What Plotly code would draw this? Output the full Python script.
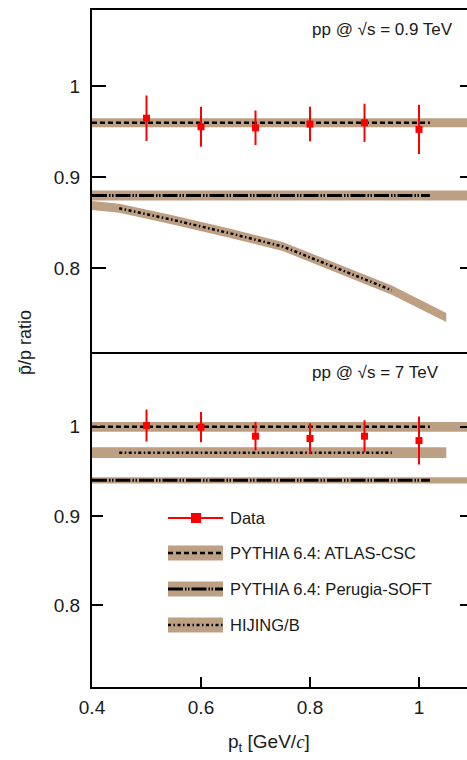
import plotly.graph_objects as go

# ---------------- data ----------------
pt = [0.5, 0.6, 0.7, 0.8, 0.9, 1.0]
ratio_09 = [0.965, 0.9556, 0.9545, 0.9586, 0.960, 0.9527]
err_09 = [0.025, 0.022, 0.019, 0.019, 0.021, 0.027]
ratio_7 = [1.0015, 0.9996, 0.9895, 0.9869, 0.9895, 0.9846]
err_7 = [0.018, 0.017, 0.016, 0.017, 0.018, 0.027]

# models, 0.9 TeV
atlas_09_x = [0.4, 1.1]
atlas_09_y = [0.96, 0.96]
atlas_09_unc = 0.005
perugia_09_x = [0.4, 1.1]
perugia_09_y = [0.88, 0.88]
perugia_09_unc = 0.0055
hijing_09_x = [0.4, 0.45, 0.55, 0.65, 0.75, 0.85, 0.95, 1.05]
hijing_09_y = [0.869, 0.866, 0.853, 0.839, 0.824, 0.800, 0.776, 0.746]
hijing_09_unc = 0.005

# models, 7 TeV
atlas_7_x = [0.4, 1.1]
atlas_7_y = [1.0, 1.0]
atlas_7_unc = 0.0055
hijing_7_x = [0.4, 1.05]
hijing_7_y = [0.971, 0.971]
hijing_7_unc = 0.006
perugia_7_x = [0.4, 1.1]
perugia_7_y = [0.94, 0.94]
perugia_7_unc = 0.0035

# extent of the central curves
pythia_line_x = [0.4, 1.02]
hijing_line_x = [0.45, 0.95]

y_ticks = [0.8, 0.9, 1.0]
y_ticktext = ["0.8", "0.9", "1"]
x_ticks = [0.4, 0.6, 0.8, 1.0]
x_ticktext = ["0.4", "0.6", "0.8", "1"]

legend_labels = ["Data", "PYTHIA 6.4: ATLAS-CSC", "PYTHIA 6.4: Perugia-SOFT", "HIJING/B"]

# ---------------- styles ----------------
TAN = "#bda083"
RED = "#ff0000"
FONT = "Liberation Sans, Arial, sans-serif"
DASH_ATLAS = "5px,3px"
DASH_PERUGIA = "15px,2px,1.5px,1.5px,1.5px,2px"
DASH_HIJING = "3px,2.5px,1.5px,2.5px"

W, H = 467, 760
ML, MR, MT, MB = 92, 0, 10, 73
PW, PH = W - ML - MR, H - MT - MB
SPLIT = (687 - 352) / PH  # domain split between panels

fig = go.Figure()


def band(x, y, unc, xa, ya):
    lo = [v - unc for v in y]
    hi = [v + unc for v in y]
    fig.add_trace(go.Scatter(
        x=list(x) + list(x)[::-1], y=hi + lo[::-1], fill="toself",
        fillcolor=TAN, line=dict(width=0), mode="lines",
        xaxis=xa, yaxis=ya, showlegend=False, hoverinfo="skip"))


def curve(x, y, dash, width, xa, ya):
    fig.add_trace(go.Scatter(
        x=x, y=y, mode="lines", line=dict(color="black", width=width, dash=dash),
        xaxis=xa, yaxis=ya, showlegend=False, hoverinfo="skip"))


def interp(xs, ys, xv):
    for i in range(len(xs) - 1):
        if xs[i] <= xv <= xs[i + 1]:
            t = (xv - xs[i]) / (xs[i + 1] - xs[i])
            return ys[i] + t * (ys[i + 1] - ys[i])
    return ys[-1]


# ---- top panel (0.9 TeV): xaxis x2 / yaxis y2
band(atlas_09_x, atlas_09_y, atlas_09_unc, "x2", "y2")
band(perugia_09_x, perugia_09_y, perugia_09_unc, "x2", "y2")
band(hijing_09_x, hijing_09_y, hijing_09_unc, "x2", "y2")
curve(pythia_line_x, [interp(atlas_09_x, atlas_09_y, v) for v in pythia_line_x],
      DASH_ATLAS, 2.5, "x2", "y2")
curve(pythia_line_x, [interp(perugia_09_x, perugia_09_y, v) for v in pythia_line_x],
      DASH_PERUGIA, 3, "x2", "y2")
hx = [v for v in hijing_09_x if hijing_line_x[0] <= v <= hijing_line_x[1]]
curve(hx, [interp(hijing_09_x, hijing_09_y, v) for v in hx], DASH_HIJING, 2.5, "x2", "y2")
fig.add_trace(go.Scatter(
    x=pt, y=ratio_09, mode="markers",
    marker=dict(symbol="square", size=7, color=RED),
    error_y=dict(type="data", array=err_09, color=RED, thickness=2, width=0),
    xaxis="x2", yaxis="y2", showlegend=False))

# ---- bottom panel (7 TeV): xaxis x / yaxis y
band(atlas_7_x, atlas_7_y, atlas_7_unc, "x", "y")
band(hijing_7_x, hijing_7_y, hijing_7_unc, "x", "y")
band(perugia_7_x, perugia_7_y, perugia_7_unc, "x", "y")
curve(pythia_line_x, [interp(atlas_7_x, atlas_7_y, v) for v in pythia_line_x],
      DASH_ATLAS, 2.5, "x", "y")
curve(hijing_line_x, [interp(hijing_7_x, hijing_7_y, v) for v in hijing_line_x],
      DASH_HIJING, 2.5, "x", "y")
curve(pythia_line_x, [interp(perugia_7_x, perugia_7_y, v) for v in pythia_line_x],
      DASH_PERUGIA, 3, "x", "y")
fig.add_trace(go.Scatter(
    x=pt, y=ratio_7, mode="markers",
    marker=dict(symbol="square", size=7, color=RED),
    error_y=dict(type="data", array=err_7, color=RED, thickness=2, width=0),
    xaxis="x", yaxis="y", showlegend=False))

# ---------------- axes ----------------
XR = [0.4, 0.4 + PW / 545.0]
YR = [0.708, 1.084]
axis_common = dict(showline=True, linecolor="black", linewidth=2, showgrid=False,
                   zeroline=False, tickcolor="black", tickwidth=2,
                   tickfont=dict(family=FONT, size=19, color="#1a1a1a"))

fig.update_layout(
    xaxis=dict(axis_common, domain=[0, 1], range=XR, anchor="y", mirror=False,
               ticks="inside", ticklen=10, tickvals=x_ticks, ticktext=x_ticktext,
               ticklabelstandoff=2),
    xaxis2=dict(axis_common, domain=[0, 1], range=XR, anchor="y2", mirror=True,
                ticks="", showticklabels=False, matches="x"),
    yaxis=dict(axis_common, domain=[0, SPLIT], range=YR, anchor="x",
               ticks="inside", ticklen=11, tickvals=y_ticks, ticktext=y_ticktext,
               ticklabelstandoff=6),
    yaxis2=dict(axis_common, domain=[SPLIT, 1], range=YR, anchor="x2",
                ticks="inside", ticklen=14, tickvals=y_ticks, ticktext=y_ticktext,
                ticklabelstandoff=6),
    yaxis3=dict(overlaying="y", side="right", anchor="x", range=YR, showline=False,
                showgrid=False, zeroline=False, ticks="inside", ticklen=7, tickwidth=2,
                tickcolor="black", tickvals=y_ticks, showticklabels=False),
    yaxis4=dict(overlaying="y2", side="right", anchor="x2", range=YR, showline=False,
                showgrid=False, zeroline=False, ticks="inside", ticklen=7, tickwidth=2,
                tickcolor="black", tickvals=y_ticks, showticklabels=False),
)
# empty traces that activate the right-side tick axes
fig.add_trace(go.Scatter(x=[None], y=[None], xaxis="x", yaxis="y3", showlegend=False))
fig.add_trace(go.Scatter(x=[None], y=[None], xaxis="x2", yaxis="y4", showlegend=False))


def px_x(p):
    return (p - ML) / PW


def px_y(p):
    return (H - MB - p) / PH


shapes = []
annotations = []

# ---------------- custom legend ----------------
LX0, LX1 = 168, 223
leg_y = [518, 553, 589, 625]
leg_dash = [None, DASH_ATLAS, DASH_PERUGIA, DASH_HIJING]
leg_w = [2, 2.5, 3, 2.5]
for i, lab in enumerate(legend_labels):
    yc = leg_y[i]
    if i == 0:
        shapes.append(dict(type="line", xref="paper", yref="paper",
                           x0=px_x(LX0), x1=px_x(LX1), y0=px_y(yc), y1=px_y(yc),
                           line=dict(color=RED, width=2)))
        shapes.append(dict(type="rect", xref="paper", yref="paper",
                           x0=px_x(191), x1=px_x(201), y0=px_y(yc - 5), y1=px_y(yc + 5),
                           fillcolor=RED, line=dict(width=0)))
    else:
        shapes.append(dict(type="rect", xref="paper", yref="paper",
                           x0=px_x(LX0), x1=px_x(LX1), y0=px_y(yc - 7.5), y1=px_y(yc + 7.5),
                           fillcolor=TAN, line=dict(width=0)))
        shapes.append(dict(type="line", xref="paper", yref="paper",
                           x0=px_x(LX0), x1=px_x(LX1), y0=px_y(yc), y1=px_y(yc),
                           line=dict(color="black", width=leg_w[i], dash=leg_dash[i])))
    annotations.append(dict(text=lab, xref="paper", yref="paper", x=px_x(228), y=px_y(yc),
                            xanchor="left", yanchor="middle", showarrow=False,
                            font=dict(family=FONT, size=16.5, color="#1a1a1a")))

# ---------------- panel labels ----------------
annotations.append(dict(text="pp @ √s = 0.9 TeV", xref="paper", yref="paper",
                        x=px_x(310), y=px_y(30), xanchor="left", yanchor="middle",
                        showarrow=False, font=dict(family=FONT, size=17, color="#1a1a1a")))
annotations.append(dict(text="pp @ √s = 7 TeV", xref="paper", yref="paper",
                        x=px_x(310), y=px_y(372), xanchor="left", yanchor="middle",
                        showarrow=False, font=dict(family=FONT, size=17, color="#1a1a1a")))

# ---------------- axis titles ----------------
annotations.append(dict(
    text="p<sub>t</sub> [GeV/<span style='font-family:Liberation Serif'><i>c</i></span>]",
    xref="paper", yref="paper", x=px_x(269), y=px_y(743), xanchor="center",
    yanchor="middle", showarrow=False, font=dict(family=FONT, size=19, color="#1a1a1a")))
annotations.append(dict(
    text="p\u0304/p ratio", xref="paper", yref="paper", x=px_x(25), y=px_y(343),
    xanchor="center", yanchor="middle", textangle=-90, showarrow=False,
    font=dict(family=FONT, size=18, color="#1a1a1a")))

fig.update_layout(
    width=W, height=H, margin=dict(l=ML, r=MR, t=MT, b=MB, pad=0),
    paper_bgcolor="white", plot_bgcolor="white", showlegend=False,
    shapes=shapes, annotations=annotations,
)

fig.write_html("out.html", config={"displayModeBar": False},
               post_script="document.body.style.margin='0';document.body.style.overflow='hidden';")
